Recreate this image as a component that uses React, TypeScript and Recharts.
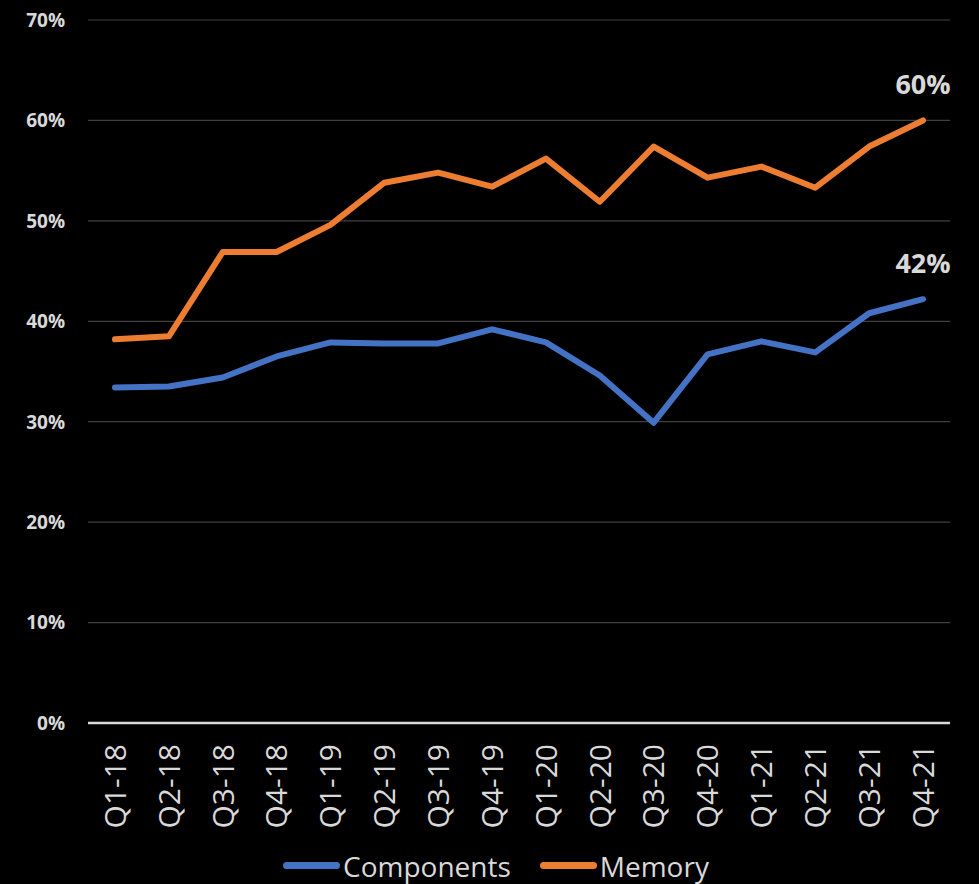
import React from 'react';
import { LineChart, Line, XAxis, YAxis, CartesianGrid, Legend } from 'recharts';

const categories = ['Q1-18', 'Q2-18', 'Q3-18', 'Q4-18', 'Q1-19', 'Q2-19', 'Q3-19', 'Q4-19', 'Q1-20', 'Q2-20', 'Q3-20', 'Q4-20', 'Q1-21', 'Q2-21', 'Q3-21', 'Q4-21'];
const components = [33.4, 33.5, 34.4, 36.5, 37.9, 37.8, 37.8, 39.2, 37.9, 34.6, 29.9, 36.7, 38.0, 36.9, 40.8, 42.2];
const memory = [38.2, 38.5, 46.9, 46.9, 49.6, 53.8, 54.8, 53.4, 56.2, 51.9, 57.4, 54.3, 55.4, 53.3, 57.4, 60.0];
const yTicks = [0, 10, 20, 30, 40, 50, 60, 70];

const data = categories.map((c, i) => ({ name: c, Components: components[i], Memory: memory[i] }));

const FONT = '"Open Sans", sans-serif';
const TEXT = '#d9d9d9';
const BLUE = '#4472C4';
const ORANGE = '#ED7D31';

const XTick = (props: any) => {
  const { x, y, payload } = props;
  return (
    <text
      x={x}
      y={y}
      dy="0.36em"
      transform={`rotate(-90, ${x}, ${y})`}
      textAnchor="end"
      fill={TEXT}
      fontSize={30}
      fontFamily={FONT}
    >
      {payload.value}
    </text>
  );
};

const YTick = (props: any) => {
  const { x, y, payload } = props;
  return (
    <text x={x} y={y} dy="0.36em" textAnchor="end" fill={TEXT} fontSize={19} fontWeight="bold" fontFamily={FONT}>
      {payload.value}%
    </text>
  );
};

const makeLastLabel = (n: number) => (props: any) => {
  const { x, y, index, value } = props;
  if (index !== n - 1) return null;
  return (
    <text x={x} y={y - 26} textAnchor="middle" fill={TEXT} fontSize={27} fontWeight="bold" fontFamily={FONT}>
      {Math.round(value)}%
    </text>
  );
};

const LegendContent = () => {
  const items = [
    { label: 'Components', color: BLUE },
    { label: 'Memory', color: ORANGE },
  ];
  return (
    <div style={{ display: 'flex', alignItems: 'center', paddingLeft: 275, height: 51, boxSizing: 'border-box', paddingTop: 14 }}>
      {items.map((it) => (
        <div key={it.label} style={{ display: 'flex', alignItems: 'center', marginRight: 29 }}>
          <div style={{ width: 57, height: 7, borderRadius: 4, background: it.color, marginRight: 3 }} />
          <span style={{ color: TEXT, fontSize: 28, fontFamily: FONT, lineHeight: '34px' }}>{it.label}</span>
        </div>
      ))}
    </div>
  );
};

export default function App() {
  return (
    <div style={{ position: 'absolute', left: 0, top: 0, width: 979, height: 884, background: '#000', fontFamily: FONT }}>
      <LineChart width={979} height={884} data={data} margin={{ top: 20, right: 29, left: 8, bottom: 0 }}>
        <CartesianGrid vertical={false} stroke="#404040" strokeWidth={1.2} />
        <XAxis
          dataKey="name"
          interval={0}
          height={110}
          tickSize={0}
          tickMargin={21}
          padding={{ left: 27, right: 27 }}
          tick={<XTick />}
          axisLine={{ stroke: TEXT, strokeWidth: 2.5 }}
          tickLine={false}
        />
        <YAxis
          domain={[0, 70]}
          ticks={yTicks}
          width={80}
          tickSize={0}
          tickMargin={23}
          tick={<YTick />}
          axisLine={false}
          tickLine={false}
        />
        <Legend verticalAlign="bottom" wrapperStyle={{ height: 51 }} content={<LegendContent />} />
        <Line
          type="linear"
          dataKey="Components"
          stroke={BLUE}
          strokeWidth={6}
          strokeLinecap="round"
          strokeLinejoin="round"
          dot={false}
          isAnimationActive={false}
          label={makeLastLabel(categories.length)}
        />
        <Line
          type="linear"
          dataKey="Memory"
          stroke={ORANGE}
          strokeWidth={6}
          strokeLinecap="round"
          strokeLinejoin="round"
          dot={false}
          isAnimationActive={false}
          label={makeLastLabel(categories.length)}
        />
      </LineChart>
    </div>
  );
}
